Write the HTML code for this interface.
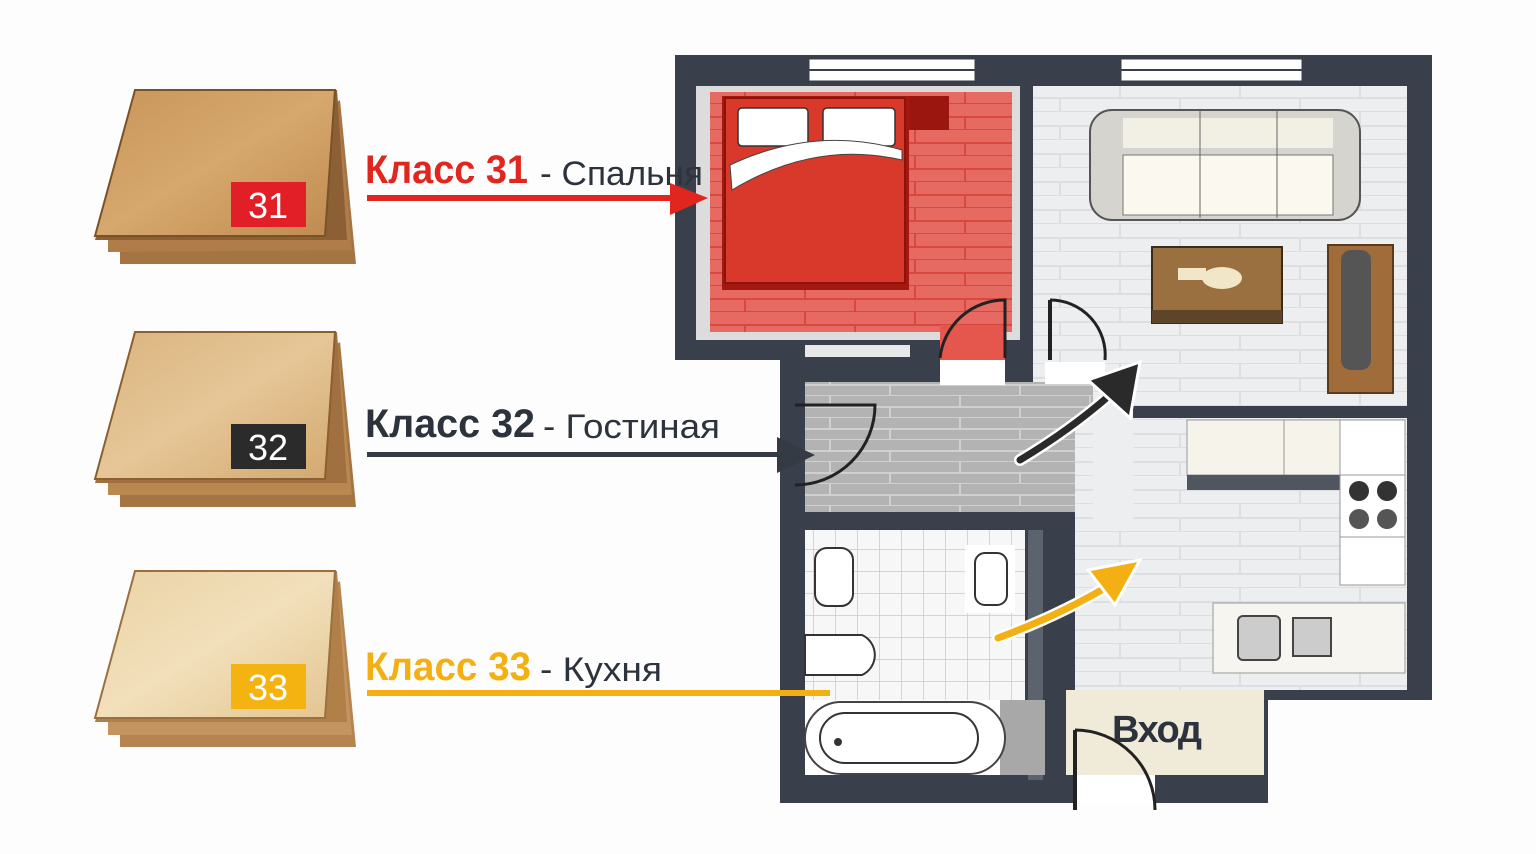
<!DOCTYPE html>
<html><head><meta charset="utf-8"><style>
html,body{margin:0;padding:0;background:#fff;}
svg{display:block;}
text{font-family:"Liberation Sans","DejaVu Sans",sans-serif;}
</style></head><body>
<svg width="1536" height="854" viewBox="0 0 1536 854" xmlns="http://www.w3.org/2000/svg">
<defs>
<linearGradient id="w1" x1="0" y1="0" x2="1" y2="1"><stop offset="0" stop-color="#c8955a"/><stop offset="0.5" stop-color="#d6a86d"/><stop offset="1" stop-color="#bf8a4f"/></linearGradient>
<linearGradient id="w2" x1="0" y1="0" x2="1" y2="1"><stop offset="0" stop-color="#d9b47f"/><stop offset="0.5" stop-color="#e6c697"/><stop offset="1" stop-color="#d2a86f"/></linearGradient>
<linearGradient id="w3" x1="0" y1="0" x2="1" y2="1"><stop offset="0" stop-color="#ead2a5"/><stop offset="0.5" stop-color="#f2e0bb"/><stop offset="1" stop-color="#e3c48f"/></linearGradient>
<pattern id="grid" width="22" height="22" patternUnits="userSpaceOnUse"><rect width="22" height="22" fill="#f7f7f7"/><path d="M22 0V22M0 22H22" stroke="#c9c9c9" stroke-width="1.5"/></pattern>
<pattern id="bricksL" width="120" height="28" patternUnits="userSpaceOnUse"><rect width="120" height="28" fill="#eceef0"/><path d="M0 14H120M0 28H120M40 0V14M100 14V28" stroke="#dcdfe2" stroke-width="2"/></pattern>
<pattern id="bricksR" width="110" height="26" patternUnits="userSpaceOnUse"><rect width="110" height="26" fill="#e76a62"/><path d="M0 13H110M0 26H110M35 0V13M85 13V26" stroke="#d9483f" stroke-width="2"/></pattern>
<pattern id="bricksG" width="130" height="22" patternUnits="userSpaceOnUse"><rect width="130" height="22" fill="#b3b3b3"/><path d="M0 11H130M0 22H130M50 0V11M110 11V22" stroke="#d0d0d0" stroke-width="2"/></pattern>
</defs>
<rect width="1536" height="854" fill="#fdfdfd"/>

<!-- wood samples -->
<g>
 <polygon points="120,250 340,100 356,264 120,264" fill="#a57443"/>
 <polygon points="108,240 337,92 352,250 108,252" fill="#b07d4a"/>
 <polygon points="135,90 337,90 347,240 95,240" fill="#8c6034"/>
 <polygon points="135,90 335,90 325,236 95,236" fill="url(#w1)" stroke="#7a5228" stroke-width="2"/>
 <rect x="231" y="182" width="75" height="45" fill="#e21f26"/>
 <text x="268" y="218" font-size="36" fill="#fff" text-anchor="middle">31</text>
</g>
<g>
 <polygon points="120,492 340,342 356,507 120,507" fill="#a57443"/>
 <polygon points="108,482 337,334 352,495 108,495" fill="#b88850"/>
 <polygon points="135,332 337,332 347,483 95,483" fill="#a07040"/>
 <polygon points="135,332 335,332 325,479 95,479" fill="url(#w2)" stroke="#8a6030" stroke-width="2"/>
 <rect x="231" y="424" width="75" height="45" fill="#2b2b2b"/>
 <text x="268" y="460" font-size="36" fill="#fff" text-anchor="middle">32</text>
</g>
<g>
 <polygon points="120,732 340,581 356,747 120,747" fill="#b58450"/>
 <polygon points="108,722 337,573 352,735 108,735" fill="#c49460"/>
 <polygon points="135,571 337,571 347,722 95,722" fill="#b08048"/>
 <polygon points="135,571 335,571 325,718 95,718" fill="url(#w3)" stroke="#9a7040" stroke-width="2"/>
 <rect x="231" y="664" width="75" height="45" fill="#f5b311"/>
 <text x="268" y="700" font-size="36" fill="#fff" text-anchor="middle">33</text>
</g>

<!-- floor plan -->
<polygon points="675,55 1432,55 1432,700 1268,700 1268,803 780,803 780,360 675,360" fill="#3a404b"/>
<rect x="808" y="58" width="168" height="24" fill="#fff" stroke="#3a404b" stroke-width="3"/>
<line x1="808" y1="70" x2="976" y2="70" stroke="#3a404b" stroke-width="2"/>
<rect x="1120" y="58" width="183" height="24" fill="#fff" stroke="#3a404b" stroke-width="3"/>
<line x1="1120" y1="70" x2="1303" y2="70" stroke="#3a404b" stroke-width="2"/>
<!-- bedroom -->
<rect x="696" y="86" width="324" height="254" fill="#dcdcdc"/>
<rect x="710" y="92" width="302" height="240" fill="url(#bricksR)"/>
<rect x="940" y="325" width="65" height="35" fill="#e5564c"/>
<rect x="722" y="96" width="187" height="194" fill="#a51810"/>
<rect x="725" y="98" width="180" height="185" fill="#d8392a" stroke="#8a140c" stroke-width="2"/>
<rect x="909" y="96" width="40" height="34" fill="#9c1610"/>
<rect x="738" y="108" width="70" height="38" rx="4" fill="#fff" stroke="#333" stroke-width="1.5"/>
<rect x="823" y="108" width="72" height="38" rx="4" fill="#fff" stroke="#333" stroke-width="1.5"/>
<path d="M730 165 Q815 125 902 150 L902 160 Q815 140 732 190 Z" fill="#fff" stroke="#444"/>
<rect x="805" y="345" width="105" height="12" fill="#e8e8e8"/>
<!-- living -->
<rect x="1033" y="86" width="374" height="320" fill="url(#bricksL)"/>
<rect x="1090" y="110" width="270" height="110" rx="22" fill="#d6d4cf" stroke="#555" stroke-width="2"/>
<rect x="1123" y="118" width="210" height="30" fill="#f2efe5"/>
<rect x="1123" y="155" width="210" height="60" fill="#faf8ef" stroke="#777"/>
<line x1="1200" y1="110" x2="1200" y2="218" stroke="#666"/><line x1="1277" y1="110" x2="1277" y2="218" stroke="#666"/>
<rect x="1152" y="247" width="130" height="76" fill="#9b7041" stroke="#3a2a1a" stroke-width="2"/>
<rect x="1152" y="310" width="130" height="13" fill="#5e4428"/>
<ellipse cx="1222" cy="278" rx="20" ry="11" fill="#f1e6c8"/><rect x="1178" y="268" width="28" height="12" fill="#f1e6c8"/>
<rect x="1328" y="245" width="65" height="148" fill="#a06c3a" stroke="#5a3a1a" stroke-width="2"/>
<rect x="1341" y="250" width="30" height="120" rx="10" fill="#555"/>
<!-- hallway -->
<rect x="805" y="382" width="288" height="130" fill="url(#bricksG)"/>
<rect x="940" y="360" width="65" height="25" fill="#fff"/>
<rect x="1045" y="362" width="60" height="22" fill="#fff"/>
<!-- kitchen -->
<rect x="1075" y="418" width="332" height="272" fill="url(#bricksL)"/>
<rect x="1093" y="405" width="40" height="120" fill="#eceef0"/>
<rect x="1187" y="420" width="153" height="55" fill="#f6f3ea" stroke="#999"/>
<line x1="1284" y1="420" x2="1284" y2="475" stroke="#999"/>
<rect x="1187" y="475" width="153" height="15" fill="#50565f"/>
<rect x="1340" y="420" width="65" height="165" fill="#fff" stroke="#999"/>
<rect x="1340" y="475" width="65" height="62" fill="#fff" stroke="#999"/>
<circle cx="1359" cy="491" r="10" fill="#333"/><circle cx="1387" cy="491" r="10" fill="#333"/>
<circle cx="1359" cy="519" r="10" fill="#555"/><circle cx="1387" cy="519" r="10" fill="#555"/>
<rect x="1213" y="603" width="192" height="70" fill="#f6f5f0" stroke="#999"/>
<rect x="1238" y="616" width="42" height="44" rx="5" fill="#ccc" stroke="#444" stroke-width="2"/>
<rect x="1293" y="618" width="38" height="38" fill="#ccc" stroke="#444" stroke-width="2"/>
<!-- bathroom -->
<rect x="805" y="530" width="220" height="170" fill="url(#grid)"/>
<rect x="1028" y="530" width="15" height="250" fill="#5d636d"/>
<rect x="815" y="548" width="38" height="58" rx="12" fill="#fff" stroke="#333" stroke-width="2"/>
<rect x="965" y="545" width="50" height="68" fill="#fff"/>
<rect x="975" y="553" width="32" height="52" rx="10" fill="#fff" stroke="#333" stroke-width="2"/>
<path d="M805 635 H862 A22 22 0 0 1 862 675 H805 Z" fill="#fff" stroke="#333" stroke-width="2"/>
<rect x="805" y="700" width="240" height="75" fill="#fff"/>
<rect x="1000" y="700" width="45" height="75" fill="#a8a8a8"/>
<rect x="805" y="702" width="200" height="72" rx="36" fill="#fff" stroke="#444" stroke-width="2"/>
<rect x="820" y="713" width="158" height="50" rx="25" fill="#fff" stroke="#333" stroke-width="2"/>
<circle cx="838" cy="742" r="4" fill="#333"/>
<!-- entrance -->
<rect x="1066" y="690" width="198" height="85" fill="#f0ead8"/>
<text x="1112" y="742" font-size="38" font-weight="bold" fill="#2d333c" textLength="90">Вход</text>
<rect x="1075" y="775" width="80" height="30" fill="#fff"/>
<path d="M1075 730 A80 80 0 0 1 1155 810" fill="none" stroke="#222" stroke-width="3"/>
<line x1="1075" y1="730" x2="1075" y2="810" stroke="#222" stroke-width="4"/>
<!-- doors -->
<path d="M940 358 A65 65 0 0 1 1005 300 V358" fill="none" stroke="#222" stroke-width="3"/>
<path d="M1050 300 A55 55 0 0 1 1105 360" fill="none" stroke="#222" stroke-width="3"/>
<line x1="1050" y1="300" x2="1050" y2="360" stroke="#222" stroke-width="4"/>
<path d="M795 405 H875 A80 80 0 0 1 795 485" fill="none" stroke="#222" stroke-width="3"/>
<!-- arrows in plan -->
<path d="M1020 460 Q1070 430 1110 395" fill="none" stroke="#fff" stroke-width="12" stroke-linecap="round"/>
<path d="M1020 460 Q1070 430 1110 395" fill="none" stroke="#2a2a2a" stroke-width="7" stroke-linecap="round"/>
<polygon points="1140,362 1130,418 1088,380" fill="#2a2a2a" stroke="#fff" stroke-width="3"/>
<path d="M998 638 Q1060 615 1110 585" fill="none" stroke="#fff" stroke-width="12" stroke-linecap="round"/>
<path d="M998 638 Q1060 615 1110 585" fill="none" stroke="#f4b012" stroke-width="7" stroke-linecap="round"/>
<polygon points="1140,560 1115,605 1088,570" fill="#f4b012" stroke="#fff" stroke-width="3"/>

<!-- labels & leaders -->
<text x="365" y="183" font-size="40" font-weight="bold" fill="#e0261f" textLength="163" lengthAdjust="spacingAndGlyphs">Класс 31</text>
<text x="540" y="185" font-size="34" fill="#2d333c" textLength="163" lengthAdjust="spacingAndGlyphs">- Спальня</text>
<rect x="367" y="195" width="305" height="6" fill="#e0261f"/>
<polygon points="670,183 708,198 670,215" fill="#e0261f"/>

<text x="365" y="437" font-size="40" font-weight="bold" fill="#2d333c" textLength="170" lengthAdjust="spacingAndGlyphs">Класс 32</text>
<text x="543" y="438" font-size="34" fill="#2d333c" textLength="177" lengthAdjust="spacingAndGlyphs">- Гостиная</text>
<rect x="367" y="452" width="412" height="5" fill="#353b45"/>
<polygon points="777,437 815,455 777,473" fill="#353b45"/>

<text x="365" y="680" font-size="40" font-weight="bold" fill="#f4b012" textLength="166" lengthAdjust="spacingAndGlyphs">Класс 33</text>
<text x="540" y="681" font-size="34" fill="#2d333c" textLength="122" lengthAdjust="spacingAndGlyphs">- Кухня</text>
<rect x="367" y="690" width="463" height="6" fill="#f4b012"/>
</svg>
</body></html>
